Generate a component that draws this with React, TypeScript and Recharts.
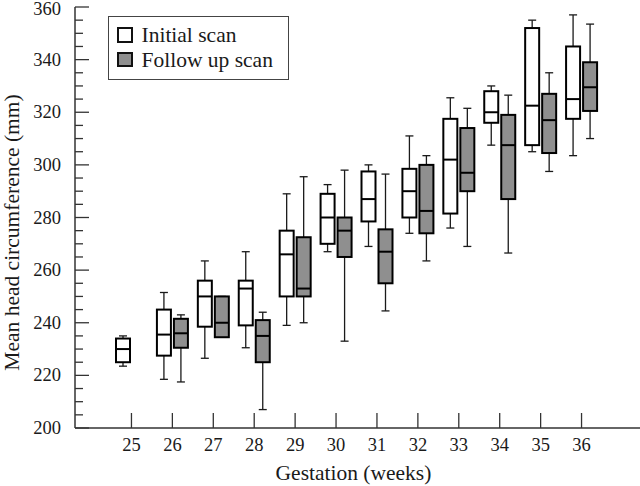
import React from "react";
import { Bar, BarChart, Legend, XAxis, YAxis } from "recharts";

const weeks = ["25", "26", "27", "28", "29", "30", "31", "32", "33", "34", "35", "36"];
const seriesNames = ["Initial scan", "Follow up scan"];

// initial scan: whisker low, lower quartile, median, upper quartile, whisker high
const initialMin = [223.5, 218.5, 226.5, 230.5, 239, 267, 269, 274, 276, 307.5, 305, 303.5];
const initialQ1 = [225, 227.5, 238.5, 239, 250, 270, 278.5, 280, 281.5, 316, 307.5, 317.5];
const initialMedian = [230, 235.5, 250, 253, 266, 280, 287, 290, 302, 320, 322.5, 325];
const initialQ3 = [234, 245, 256, 256, 275, 289, 297.5, 298.5, 317.5, 328, 352, 345];
const initialMax = [235, 251.5, 263.5, 267, 289, 292.5, 300, 311, 325.5, 330, 355, 357];

// follow up scan (none at 25 weeks)
const followMin = [null, 217.5, 234.5, 207, 240, 233, 244.5, 263.5, 269, 266.5, 297.5, 310];
const followQ1 = [null, 230.5, 234.5, 225, 250, 265, 255, 274, 290, 287, 304.5, 320.5];
const followMedian = [null, 236, 240, 235, 253, 275, 267, 282.5, 297, 307.5, 317, 329.5];
const followQ3 = [null, 241.5, 250, 241, 272.5, 280, 275.5, 300, 314, 319, 327, 339];
const followMax = [null, 243, 250, 244, 295.5, 298, 296.5, 303.5, 321.5, 326.5, 335, 353.5];

const yTicks = Array.from({ length: 33 }, (_, i) => 200 + i * 5);

const FONT = "'Liberation Serif', 'Times New Roman', serif";
const INK = "#1a1a1a";

const rows = weeks.map((week, i) => ({
  week,
  initial: { min: initialMin[i], q1: initialQ1[i], med: initialMedian[i], q3: initialQ3[i], max: initialMax[i] },
  follow:
    followMin[i] == null
      ? null
      : { min: followMin[i], q1: followQ1[i], med: followMedian[i], q3: followQ3[i], max: followMax[i] },
}));

function BoxShape(props: any) {
  const { x, y, width, height, payload, fill, series } = props;
  const s = payload?.[series];
  if (!s || !isFinite(y) || !isFinite(height)) return <g />;
  const span = s.max - s.min || 1;
  const py = (v: number) => y + ((s.max - v) / span) * height;
  const cx = x + width / 2;
  const cap = 4;
  return (
    <g>
      <line x1={cx} x2={cx} y1={py(s.max)} y2={py(s.q3)} stroke={INK} strokeWidth={1.3} />
      <line x1={cx} x2={cx} y1={py(s.q1)} y2={py(s.min)} stroke={INK} strokeWidth={1.3} />
      <line x1={cx - cap} x2={cx + cap} y1={py(s.max)} y2={py(s.max)} stroke={INK} strokeWidth={1.3} />
      <line x1={cx - cap} x2={cx + cap} y1={py(s.min)} y2={py(s.min)} stroke={INK} strokeWidth={1.3} />
      <rect x={x} y={py(s.q3)} width={width} height={py(s.q1) - py(s.q3)} fill={fill} stroke="#000" strokeWidth={2} />
      <line x1={x} x2={x + width} y1={py(s.med)} y2={py(s.med)} stroke="#000" strokeWidth={2} />
    </g>
  );
}

function YTick(props: any) {
  const { x, y, payload } = props;
  const major = payload.value % 20 === 0;
  // keep the top label inside the picture
  const ty = Math.max(y, 9);
  return (
    <g>
      <line x1={x} x2={x + (major ? 14 : 8)} y1={y} y2={y} stroke="#333" strokeWidth={1.3} />
      {major && (
        <text x={x - 14} y={ty} textAnchor="end" dominantBaseline="central" fontFamily={FONT} fontSize={18.5} fill={INK}>
          {payload.value}
        </text>
      )}
    </g>
  );
}

function XTick(props: any) {
  const { x, y, payload } = props;
  return (
    <g>
      <line x1={x} x2={x} y1={y} y2={y - 15} stroke="#333" strokeWidth={1.3} />
      <text x={x} y={y + 23} textAnchor="middle" fontFamily={FONT} fontSize={18.5} fill={INK}>
        {payload.value}
      </text>
    </g>
  );
}

function YTitle(props: any) {
  const vb = props.viewBox || { x: 0, y: 7, width: 75, height: 421 };
  const x = vb.x + 18.5;
  const y = vb.y + vb.height / 2 + 15;
  return (
    <text x={x} y={y} transform={`rotate(-90, ${x}, ${y})`} textAnchor="middle" fontFamily={FONT} fontSize={21.5} fill={INK}>
      Mean head circumference (mm)
    </text>
  );
}

function LegendBox(props: any) {
  const items = [...(props.payload || [])].sort(
    (a: any, b: any) => seriesNames.indexOf(a.value) - seriesNames.indexOf(b.value)
  );
  return (
    <div
      style={{
        position: "relative",
        width: 181,
        height: 64,
        boxSizing: "border-box",
        border: "1.5px solid #444",
        background: "#fff",
        fontFamily: FONT,
        fontSize: 21.5,
        color: INK,
      }}
    >
      {items.map((item: any, i: number) => (
        <React.Fragment key={item.value}>
          <div
            style={{
              position: "absolute",
              left: 8,
              top: 10.5 + i * 24.5,
              width: 16,
              height: 15.5,
              boxSizing: "border-box",
              border: "2px solid #111",
              background: item.color,
            }}
          />
          <span style={{ position: "absolute", left: 32.5, top: 8.5 + i * 24.5, lineHeight: "21px", whiteSpace: "nowrap" }}>
            {item.value}
          </span>
        </React.Fragment>
      ))}
    </div>
  );
}

export default function App() {
  return (
    <div style={{ position: "absolute", left: 0, top: 0, background: "#fff" }}>
      <BarChart width={640} height={486} data={rows} margin={{ top: 7, right: 0, bottom: 0, left: 0 }} barGap={3}>
        <XAxis
          dataKey="week"
          type="category"
          height={58}
          padding={{ left: 36, right: 38 }}
          interval={0}
          tickSize={0}
          tickMargin={0}
          tickLine={false}
          axisLine={{ stroke: "#333", strokeWidth: 1.5 }}
          tick={<XTick />}
          label={{ value: "Gestation (weeks)", position: "insideBottom", offset: 6, fontFamily: FONT, fontSize: 21.5, fill: INK, dx: -4 }}
        />
        <YAxis
          type="number"
          domain={[200, 360]}
          ticks={yTicks}
          interval={0}
          width={75}
          tickSize={0}
          tickMargin={0}
          tickLine={false}
          axisLine={{ stroke: "#333", strokeWidth: 1.5 }}
          tick={<YTick />}
          label={<YTitle />}
        />
        <Legend
          layout="horizontal"
          verticalAlign="middle"
          align="center"
          wrapperStyle={{ top: 15.5, left: 108, width: 181, height: 64 }}
          content={<LegendBox />}
        />
        <Bar
          name={seriesNames[0]}
          dataKey={(r: any) => [r.initial.min, r.initial.max]}
          fill="#ffffff"
          barSize={14}
          isAnimationActive={false}
          shape={(p: any) => <BoxShape {...p} series="initial" />}
        />
        <Bar
          name={seriesNames[1]}
          dataKey={(r: any) => (r.follow ? [r.follow.min, r.follow.max] : null)}
          fill="#8f8f8f"
          barSize={14}
          isAnimationActive={false}
          shape={(p: any) => <BoxShape {...p} series="follow" />}
        />
      </BarChart>
    </div>
  );
}
